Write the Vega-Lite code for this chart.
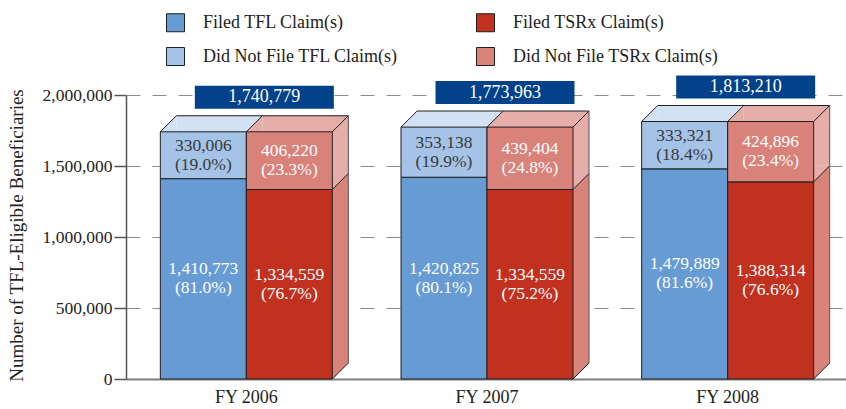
{
 "$schema": "https://vega.github.io/schema/vega-lite/v6.json",
 "width": 722,
 "height": 284,
 "autosize": {"type": "none"},
 "padding": {"left": 126, "top": 95, "right": 0, "bottom": 30},
 "background": "white",
 "config": {"view": {"stroke": null}, "font": "Liberation Serif"},
 "data": {"values": [
  {"year": "FY 2006", "type": "TFL", "status": "Filed", "series": "Filed TFL Claim(s)", "count": 1410773, "share": "(81.0%)"},
  {"year": "FY 2006", "type": "TFL", "status": "Did Not File", "series": "Did Not File TFL Claim(s)", "count": 330006, "share": "(19.0%)"},
  {"year": "FY 2006", "type": "TSRx", "status": "Filed", "series": "Filed TSRx Claim(s)", "count": 1334559, "share": "(76.7%)"},
  {"year": "FY 2006", "type": "TSRx", "status": "Did Not File", "series": "Did Not File TSRx Claim(s)", "count": 406220, "share": "(23.3%)"},
  {"year": "FY 2007", "type": "TFL", "status": "Filed", "series": "Filed TFL Claim(s)", "count": 1420825, "share": "(80.1%)"},
  {"year": "FY 2007", "type": "TFL", "status": "Did Not File", "series": "Did Not File TFL Claim(s)", "count": 353138, "share": "(19.9%)"},
  {"year": "FY 2007", "type": "TSRx", "status": "Filed", "series": "Filed TSRx Claim(s)", "count": 1334559, "share": "(75.2%)"},
  {"year": "FY 2007", "type": "TSRx", "status": "Did Not File", "series": "Did Not File TSRx Claim(s)", "count": 439404, "share": "(24.8%)"},
  {"year": "FY 2008", "type": "TFL", "status": "Filed", "series": "Filed TFL Claim(s)", "count": 1479889, "share": "(81.6%)"},
  {"year": "FY 2008", "type": "TFL", "status": "Did Not File", "series": "Did Not File TFL Claim(s)", "count": 333321, "share": "(18.4%)"},
  {"year": "FY 2008", "type": "TSRx", "status": "Filed", "series": "Filed TSRx Claim(s)", "count": 1388314, "share": "(76.6%)"},
  {"year": "FY 2008", "type": "TSRx", "status": "Did Not File", "series": "Did Not File TSRx Claim(s)", "count": 424896, "share": "(23.4%)"}
 ]},
 "transform": [
  {"stack": "count", "groupby": ["year", "type"], "sort": [{"field": "status", "order": "descending"}], "as": ["v0", "v1"]}
 ],
 "encoding": {
  "x": {"field": "year", "type": "nominal", "title": null,
   "scale": {"paddingInner": 0.285, "paddingOuter": 0.1425},
   "axis": {"labelAngle": 0, "ticks": false, "domainColor": "#808080", "domainWidth": 2, "labelPadding": 9, "labelFont": "Liberation Serif", "labelFontSize": 18, "labelColor": "#222222"}},
  "y": {"field": "v1", "type": "quantitative", "scale": {"domain": [0, 2000000], "nice": false},
   "title": "Number of TFL-Eligible Beneficiaries",
   "axis": {"values": [0, 500000, 1000000, 1500000, 2000000], "labelExpr": "format(datum.value, ',')", "grid": true, "gridDash": [14, 12], "gridColor": "#8c8c8c", "gridWidth": 1,
    "domainColor": "#555555", "domainWidth": 1.5, "tickColor": "#555555", "tickSize": 12, "tickWidth": 1.5, "labelPadding": 2,
    "labelFont": "Liberation Serif", "labelFontSize": 17.5, "labelColor": "#222222",
    "titleFont": "Liberation Serif", "titleFontSize": 19, "titleFontWeight": "normal", "titleColor": "#222222",
    "titleX": -110, "titleY": 140, "titleAngle": -90, "titleAlign": "center", "titleBaseline": "middle"}}
 },
 "layer": [
  {"transform": [{"filter": "datum.type == 'TSRx' && datum.status == 'Filed'"}],
   "mark": {"type": "bar", "width": 16, "xOffset": 94, "yOffset": -16, "y2Offset": -16, "fill": "#d9847b"},
   "encoding": {"y2": {"field": "v0"}}},
  {"transform": [{"filter": "datum.type == 'TSRx' && datum.status == 'Did Not File'"}],
   "mark": {"type": "bar", "width": 16, "xOffset": 94, "yOffset": -16, "y2Offset": -16, "fill": "#e6aea8"},
   "encoding": {"y2": {"field": "v0"}}},
  {"transform": [{"filter": "datum.type == 'TSRx' && datum.status == 'Filed'"}],
   "mark": {"type": "point", "shape": "M -1 -1 L 1 -1 L -1 1 Z", "size": 256, "filled": true, "opacity": 1, "strokeWidth": 0, "xOffset": 94, "yOffset": -8, "fill": "#d9847b"},
   "encoding": {"y": {"field": "v0", "type": "quantitative"}}},
  {"transform": [{"filter": "datum.type == 'TSRx' && datum.status == 'Did Not File'"}],
   "mark": {"type": "point", "shape": "M -1 -1 L 1 -1 L -1 1 Z", "size": 256, "filled": true, "opacity": 1, "strokeWidth": 0, "xOffset": 94, "yOffset": -8, "fill": "#e6aea8"},
   "encoding": {"y": {"field": "v0", "type": "quantitative"}}},
  {"transform": [{"filter": "datum.type == 'TFL' && datum.status == 'Did Not File'"}],
   "mark": {"type": "bar", "width": 86, "xOffset": -27, "yOffset": -16, "fill": "#d3e2f2"},
   "encoding": {"y2": {"field": "v1"}}},
  {"transform": [{"filter": "datum.type == 'TSRx' && datum.status == 'Did Not File'"}],
   "mark": {"type": "bar", "width": 86, "xOffset": 59, "yOffset": -16, "fill": "#e6aea8"},
   "encoding": {"y2": {"field": "v1"}}},
  {"transform": [{"filter": "datum.type == 'TFL' && datum.status == 'Did Not File'"}],
   "mark": {"type": "point", "shape": "M -1 1 L 1 -1 L 1 1 Z", "size": 256, "filled": true, "opacity": 1, "strokeWidth": 0, "xOffset": -78, "yOffset": -8, "fill": "#d3e2f2"}},
  {"transform": [{"filter": "datum.type == 'TSRx' && datum.status == 'Did Not File'"}],
   "mark": {"type": "point", "shape": "M -1 1 L 1 -1 L 1 1 Z", "size": 256, "filled": true, "opacity": 1, "strokeWidth": 0, "xOffset": 8, "yOffset": -8, "fill": "#e6aea8"}},
  {"transform": [{"filter": "datum.type == 'TFL'"}],
   "mark": {"type": "bar", "width": 86, "xOffset": -43, "stroke": "#1e1e1e", "strokeWidth": 1, "opacity": 1},
   "encoding": {
    "y2": {"field": "v0"},
    "color": {"field": "series", "type": "nominal",
     "scale": {"domain": ["Filed TFL Claim(s)", "Did Not File TFL Claim(s)", "Filed TSRx Claim(s)", "Did Not File TSRx Claim(s)"], "range": ["#679bd4", "#a5c3e6", "#c0311f", "#d9827a"]},
     "legend": {"orient": "none", "legendX": 40, "legendY": -82, "columns": 2, "title": null, "symbolType": "square", "symbolSize": 324,
      "symbolStrokeColor": "#222222", "symbolStrokeWidth": 1, "symbolOpacity": 1, "labelFont": "Liberation Serif", "labelFontSize": 18, "labelColor": "#222222",
      "labelOffset": 18, "rowPadding": 11, "columnPadding": 76, "padding": 0, "labelLimit": 400}}
   }},
  {"transform": [{"filter": "datum.type == 'TSRx'"}],
   "mark": {"type": "bar", "width": 86, "xOffset": 43, "stroke": "#1e1e1e", "strokeWidth": 1, "opacity": 1},
   "encoding": {
    "y2": {"field": "v0"},
    "color": {"field": "series", "type": "nominal"}
   }},
  {"transform": [{"filter": "datum.type == 'TFL' && datum.status == 'Did Not File'"}],
   "mark": {"type": "point", "shape": "M -1 1 L 1 -1", "size": 256, "filled": false, "opacity": 1, "stroke": "#1e1e1e", "strokeWidth": 1, "xOffset": -78, "yOffset": -8}},
  {"transform": [{"filter": "datum.type == 'TSRx' && datum.status == 'Did Not File'"}],
   "mark": {"type": "point", "shape": "M -1 1 L 1 -1", "size": 256, "filled": false, "opacity": 1, "stroke": "#1e1e1e", "strokeWidth": 1, "xOffset": 8, "yOffset": -8}},
  {"transform": [{"filter": "datum.type == 'TSRx' && datum.status == 'Did Not File'"}],
   "mark": {"type": "point", "shape": "M -1 1 L 1 -1", "size": 256, "filled": false, "opacity": 1, "stroke": "#1e1e1e", "strokeWidth": 1, "xOffset": 94, "yOffset": -8}},
  {"transform": [{"filter": "datum.type == 'TSRx'"}],
   "mark": {"type": "point", "shape": "M -1 1 L 1 -1", "size": 256, "filled": false, "opacity": 1, "stroke": "#1e1e1e", "strokeWidth": 1, "xOffset": 94, "yOffset": -8},
   "encoding": {"y": {"field": "v0", "type": "quantitative"}}},
  {"transform": [{"filter": "datum.type == 'TFL' && datum.status == 'Did Not File'"}],
   "mark": {"type": "bar", "width": 172, "xOffset": 16, "yOffset": -16.5, "y2Offset": -15.5, "fill": "#1e1e1e"},
   "encoding": {"y2": {"field": "v1"}}},
  {"transform": [{"filter": "datum.type == 'TSRx'"}],
   "mark": {"type": "bar", "width": 1, "xOffset": 102, "yOffset": -16, "y2Offset": -16, "fill": "#555555"},
   "encoding": {"y2": {"field": "v0"}}},
  {"transform": [{"filter": "datum.type == 'TFL' && datum.status == 'Did Not File'"}],
   "mark": {"type": "bar", "width": 139, "xOffset": 18, "yOffset": -46, "y2Offset": -23, "fill": "#03428a"},
   "encoding": {"y2": {"field": "v1"}}},
  {"transform": [{"filter": "datum.type == 'TFL' && datum.status == 'Did Not File'"}],
   "mark": {"type": "text", "xOffset": 18, "yOffset": -34.5, "fill": "#ffffff", "font": "Liberation Serif", "fontSize": 18, "baseline": "middle", "align": "center"},
   "encoding": {"text": {"field": "v1", "type": "quantitative", "format": ","}}},
  {"transform": [{"fold": ["v0", "v1"], "as": ["edge", "pos"]}],
   "encoding": {
    "y": {"aggregate": "mean", "field": "pos", "type": "quantitative"},
    "detail": [{"field": "status", "type": "nominal"}, {"field": "type", "type": "nominal"}]
   },
   "layer": [
    {"transform": [{"filter": "datum.type == 'TFL' && datum.status == 'Did Not File'"}],
     "mark": {"type": "text", "xOffset": -43, "dy": -9.5, "font": "Liberation Serif", "fontSize": 17.5, "baseline": "middle", "align": "center", "fill": "#3a3a3a"},
     "encoding": {"text": {"field": "count", "type": "quantitative", "format": ","}}},
    {"transform": [{"filter": "datum.type == 'TFL' && datum.status == 'Did Not File'"}],
     "mark": {"type": "text", "xOffset": -43, "dy": 9.5, "font": "Liberation Serif", "fontSize": 17.5, "baseline": "middle", "align": "center", "fill": "#3a3a3a"},
     "encoding": {"text": {"field": "share", "type": "nominal"}}},
    {"transform": [{"filter": "datum.type == 'TFL' && datum.status == 'Filed'"}],
     "mark": {"type": "text", "xOffset": -43, "dy": -9.5, "font": "Liberation Serif", "fontSize": 17.5, "baseline": "middle", "align": "center", "fill": "#ffffff"},
     "encoding": {"text": {"field": "count", "type": "quantitative", "format": ","}}},
    {"transform": [{"filter": "datum.type == 'TFL' && datum.status == 'Filed'"}],
     "mark": {"type": "text", "xOffset": -43, "dy": 9.5, "font": "Liberation Serif", "fontSize": 17.5, "baseline": "middle", "align": "center", "fill": "#ffffff"},
     "encoding": {"text": {"field": "share", "type": "nominal"}}},
    {"transform": [{"filter": "datum.type == 'TSRx'"}],
     "mark": {"type": "text", "xOffset": 43, "dy": -9.5, "font": "Liberation Serif", "fontSize": 17.5, "baseline": "middle", "align": "center", "fill": "#ffffff"},
     "encoding": {"text": {"field": "count", "type": "quantitative", "format": ","}}},
    {"transform": [{"filter": "datum.type == 'TSRx'"}],
     "mark": {"type": "text", "xOffset": 43, "dy": 9.5, "font": "Liberation Serif", "fontSize": 17.5, "baseline": "middle", "align": "center", "fill": "#ffffff"},
     "encoding": {"text": {"field": "share", "type": "nominal"}}}
   ]}
 ]
}
